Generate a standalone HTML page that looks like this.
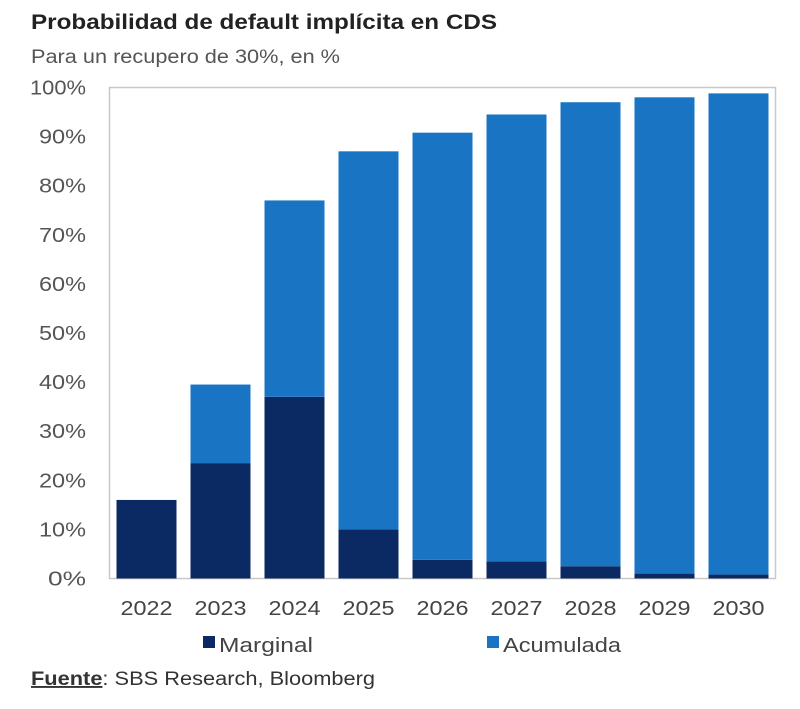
<!DOCTYPE html>
<html><head><meta charset="utf-8">
<style>
body{margin:0;background:#fff;width:800px;height:704px;overflow:hidden;font-family:"Liberation Sans",sans-serif;}
</style></head>
<body>
<svg width="800" height="704" xmlns="http://www.w3.org/2000/svg">
<text x="31" y="29" font-size="21" font-weight="bold" fill="#222" textLength="466" lengthAdjust="spacingAndGlyphs">Probabilidad de default implícita en CDS</text>
<text x="31" y="63" font-size="19" fill="#555" textLength="309" lengthAdjust="spacingAndGlyphs">Para un recupero de 30%, en %</text>
<rect x="109.5" y="87.5" width="666" height="491" fill="none" stroke="#c8c8c8" stroke-width="1.5"/>
<g id="yaxis"></g>
<g id="bars"></g>
<g id="xaxis"></g>
<g>
<rect x="203" y="636" width="12" height="12" fill="#0b2a63"/>
<text x="219" y="652" font-size="20" fill="#444" textLength="94" lengthAdjust="spacingAndGlyphs">Marginal</text>
<rect x="487" y="636" width="12" height="12" fill="#1a74c4"/>
<text x="503" y="652" font-size="20" fill="#444" textLength="118" lengthAdjust="spacingAndGlyphs">Acumulada</text>
</g>
<text x="31" y="685" font-size="19" fill="#333" textLength="344" lengthAdjust="spacingAndGlyphs"><tspan font-weight="bold" text-decoration="underline">Fuente</tspan>: SBS Research, Bloomberg</text>
</svg>
<script>
const categories=["2022","2023","2024","2025","2026","2027","2028","2029","2030"];
const marginal=[16,23.5,37,10,3.8,3.5,2.5,1,0.8];
const acumulada=[0,16,40,77,87,91,94.5,97,98];
const yTicks=[0,10,20,30,40,50,60,70,80,90,100];
const NS="http://www.w3.org/2000/svg";
const x0=109.5,plotW=666,y0=578.5,plotH=491;
const step=plotW/categories.length,barW=60;
function y(v){return y0-v/100*plotH;}
function xc(i){return x0+step*(i+0.5);}
const ya=document.getElementById('yaxis'),bg=document.getElementById('bars'),xa=document.getElementById('xaxis');
yTicks.forEach(t=>{const e=document.createElementNS(NS,'text');
e.setAttribute('x',86);e.setAttribute('y',y(t)+7);e.setAttribute('text-anchor','end');
e.setAttribute('font-size','20');e.setAttribute('fill','#555');e.textContent=t+'%';
e.setAttribute('textLength',t===100?56:(t===0?38:47));e.setAttribute('lengthAdjust','spacingAndGlyphs');


ya.appendChild(e);});
categories.forEach((c,i)=>{
 const m=document.createElementNS(NS,'rect');
 m.setAttribute('x',xc(i)-barW/2);m.setAttribute('width',barW);
 m.setAttribute('y',y(marginal[i]));m.setAttribute('height',y0-y(marginal[i]));m.setAttribute('fill','#0b2a63');
 
 
 bg.appendChild(m);
 const a=document.createElementNS(NS,'rect');
 a.setAttribute('x',xc(i)-barW/2);a.setAttribute('width',barW);
 a.setAttribute('y',y(marginal[i]+acumulada[i]));a.setAttribute('height',y(marginal[i])-y(marginal[i]+acumulada[i]));a.setAttribute('fill','#1a74c4');
 
 
 bg.appendChild(a);
 const t=document.createElementNS(NS,'text');
 t.setAttribute('x',xc(i));t.setAttribute('y',615);t.setAttribute('text-anchor','middle');
 t.setAttribute('font-size','20');t.setAttribute('fill','#444');t.textContent=c;
 t.setAttribute('textLength',52);t.setAttribute('lengthAdjust','spacingAndGlyphs');
 
 
 xa.appendChild(t);
});
</script>
</body></html>
